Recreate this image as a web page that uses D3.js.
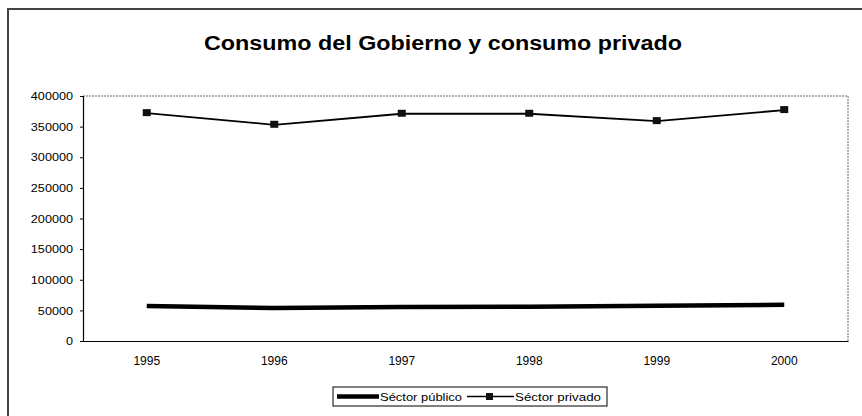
<!DOCTYPE html>
<html><head><meta charset="utf-8">
<script src="https://cdn.jsdelivr.net/npm/d3@7"></script>
<style>body{margin:0;background:#fff}svg{display:block;font-family:Arial,"Liberation Sans",sans-serif}</style>
</head><body><svg id="c" width="862" height="416"></svg>
<script>
const years = ["1995","1996","1997","1998","1999","2000"];
const publico = [57000, 54000, 55500, 56000, 57500, 59000];
const privado = [372000, 353000, 371000, 371000, 359000, 377000];
const yTicks = [0,50000,100000,150000,200000,250000,300000,350000,400000];
const seriesNames = ["Séctor público","Séctor privado"];
const title = "Consumo del Gobierno y consumo privado";

const svg = d3.select("#c");
const m = {l:83, r:848, t:96, b:341};
const x = d3.scaleBand().domain(years).range([m.l, m.r]);
const y = d3.scaleLinear().domain([0,400000]).range([m.b, m.t]);

// outer frame
svg.append("path").attr("d","M8,416 V9 H862").attr("fill","none").attr("stroke","#444").attr("stroke-width",2);

svg.append("text").attr("x",443).attr("y",50).attr("text-anchor","middle")
  .attr("font-size",20).attr("font-weight","bold").attr("textLength",478).attr("lengthAdjust","spacingAndGlyphs").text(title);

// plot border dotted top/right
svg.append("path").attr("d",`M${m.l},${m.t} H${m.r} V${m.b}`).attr("fill","none")
  .attr("stroke","#666").attr("stroke-width",1).attr("stroke-dasharray","2,1");

const ya = svg.append("g").attr("transform",`translate(${m.l},0)`)
  .call(d3.axisLeft(y).tickValues(yTicks).tickFormat(d3.format("d")).tickSize(3).tickPadding(6));
ya.select(".domain").attr("stroke","#000").attr("stroke-width",1.2);
ya.selectAll("text").attr("font-size",11.5).attr("font-family","Arial").attr("transform","scale(1.1,1)").attr("x",-9/1.1*1);
ya.selectAll(".tick text").attr("x",-10/1.1*1.0);

const xa = svg.append("g").attr("transform",`translate(0,${m.b})`)
  .call(d3.axisBottom(x).tickSize(0).tickPadding(15));
xa.select(".domain").attr("stroke","#000").attr("stroke-width",1.2);
xa.selectAll("text").attr("font-size",12).attr("font-family","Arial");

const cx = d => x(d)+x.bandwidth()/2;
const line = d3.line().x((d,i)=>cx(years[i])).y(d=>y(d));

svg.append("path").datum(publico).attr("d",line).attr("fill","none").attr("stroke","#000").attr("stroke-width",4.5);
svg.append("path").datum(privado).attr("d",line).attr("fill","none").attr("stroke","#000").attr("stroke-width",1.8);
svg.append("g").selectAll("rect").data(privado).join("rect")
  .attr("x",(d,i)=>cx(years[i])-4).attr("y",d=>y(d)-4).attr("width",8).attr("height",7).attr("fill","#111");

// legend
const lg = svg.append("g");
lg.append("rect").attr("x",333).attr("y",387).attr("width",274).attr("height",19).attr("fill","#fff").attr("stroke","#000").attr("stroke-width",1);
lg.append("line").attr("x1",337).attr("x2",379).attr("y1",396.5).attr("y2",396.5).attr("stroke","#000").attr("stroke-width",4.5);
lg.append("text").attr("x",380).attr("y",401).attr("font-size",11.5).attr("textLength",82).attr("lengthAdjust","spacingAndGlyphs").text(seriesNames[0]);
lg.append("line").attr("x1",467).attr("x2",514).attr("y1",396.5).attr("y2",396.5).attr("stroke","#000").attr("stroke-width",1.5);
lg.append("rect").attr("x",486).attr("y",393).attr("width",7).attr("height",7).attr("fill","#111");
lg.append("text").attr("x",515).attr("y",401).attr("font-size",11.5).attr("textLength",86).attr("lengthAdjust","spacingAndGlyphs").text(seriesNames[1]);
</script></body></html>
